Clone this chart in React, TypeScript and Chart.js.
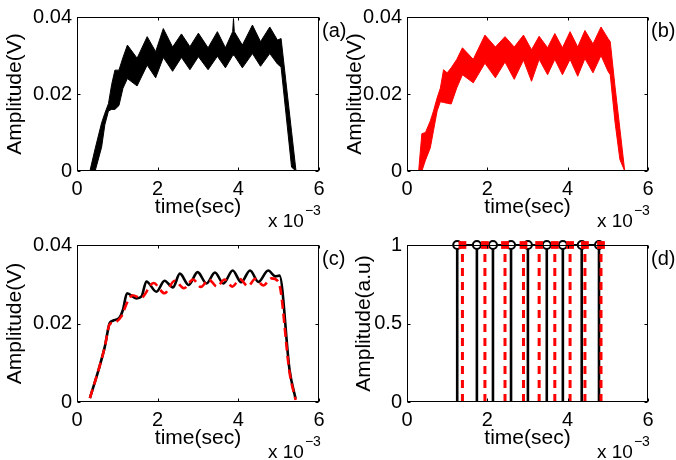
import React, { useEffect, useRef } from "react";
import { Chart, registerables } from "chart.js";

Chart.register(...registerables);

const FONT = "'Liberation Sans', Arial, Helvetica, sans-serif";

// ---------- x / y tick settings ----------
const xTickStep = 2;
const xMax = 6;
const voltMax = 0.04;
const voltStep = 0.02;
const auMax = 1;
const auStep = 0.5;

// ---------- (a) measured signal envelope (time in ms, amplitude in V) ----------
const timeA = [0.32, 0.45, 0.61, 0.69, 0.78, 0.86, 0.94, 1.04, 1.14, 1.25, 1.49, 1.74, 1.95, 2.14, 2.37, 2.59, 2.8, 3.01, 3.25, 3.48, 3.68, 3.86, 3.88, 3.9, 4.1, 4.35, 4.55, 4.78, 4.97, 5.06, 5.18, 5.32, 5.43];
const upperA = [0, 0.0058, 0.0125, 0.015, 0.0175, 0.0225, 0.0262, 0.0262, 0.0295, 0.0327, 0.0293, 0.0349, 0.031, 0.037, 0.0322, 0.0356, 0.0323, 0.0358, 0.032, 0.0362, 0.032, 0.0362, 0.0396, 0.0362, 0.0327, 0.0379, 0.0336, 0.0374, 0.034, 0.0344, 0.0232, 0.0102, 0];
const lowerA = [0, 0, 0.0062, 0.012, 0.0156, 0.016, 0.016, 0.017, 0.0215, 0.024, 0.0221, 0.0275, 0.0242, 0.0295, 0.0259, 0.0295, 0.0263, 0.0297, 0.0263, 0.0298, 0.0268, 0.03, 0.03, 0.03, 0.0268, 0.0305, 0.0272, 0.0305, 0.0278, 0.027, 0.015, 0.001, 0];

// ---------- (b) simulated signal envelope ----------
const timeB = [0.29, 0.37, 0.46, 0.58, 0.66, 0.75, 0.83, 0.91, 1.0, 1.1, 1.24, 1.38, 1.65, 1.94, 2.2, 2.44, 2.67, 2.9, 3.1, 3.29, 3.5, 3.68, 3.87, 4.06, 4.25, 4.43, 4.63, 4.83, 5.0, 5.06, 5.18, 5.3, 5.42];
const upperB = [0, 0.0097, 0.01, 0.013, 0.0156, 0.019, 0.0215, 0.0263, 0.0255, 0.0268, 0.029, 0.032, 0.029, 0.0353, 0.0322, 0.0349, 0.0322, 0.0353, 0.0315, 0.035, 0.032, 0.0357, 0.032, 0.0362, 0.0322, 0.0365, 0.033, 0.0374, 0.0345, 0.0336, 0.0218, 0.011, 0];
const lowerB = [0, 0, 0.0028, 0.006, 0.0105, 0.0156, 0.018, 0.0178, 0.0176, 0.0174, 0.0216, 0.025, 0.0229, 0.028, 0.0242, 0.0283, 0.0238, 0.0288, 0.0233, 0.029, 0.025, 0.029, 0.025, 0.029, 0.0246, 0.0292, 0.0255, 0.03, 0.026, 0.025, 0.0126, 0.003, 0];

// ---------- (c) filtered signals ----------
const timeCBlack = [0.32, 0.56, 0.69, 0.81, 0.89, 1.06, 1.14, 1.24, 1.47, 1.6, 1.72, 1.97, 2.17, 2.38, 2.55, 2.77, 2.99, 3.21, 3.42, 3.63, 3.86, 4.07, 4.29, 4.5, 4.74, 4.92, 5.02, 5.27, 5.42];
const ampCBlack = [0.001, 0.0091, 0.0141, 0.0201, 0.0207, 0.0216, 0.0235, 0.0277, 0.0264, 0.0269, 0.0307, 0.0281, 0.0309, 0.0292, 0.0327, 0.0298, 0.0331, 0.0302, 0.033, 0.0302, 0.0335, 0.0305, 0.0335, 0.0306, 0.0335, 0.032, 0.0322, 0.0082, 0.0008];
const timeCRed = [0.32, 0.56, 0.69, 0.81, 0.92, 1.1, 1.25, 1.38, 1.58, 1.9, 2.17, 2.42, 2.65, 2.88, 3.07, 3.27, 3.47, 3.66, 3.85, 4.04, 4.24, 4.42, 4.62, 4.82, 5.0, 5.27, 5.42];
const ampCRed = [0.001, 0.0091, 0.0141, 0.0198, 0.0202, 0.0218, 0.0255, 0.0272, 0.0265, 0.0303, 0.0277, 0.0309, 0.029, 0.0312, 0.0293, 0.0312, 0.0294, 0.0312, 0.0294, 0.0313, 0.0295, 0.0314, 0.0297, 0.0315, 0.0305, 0.0075, 0.0005];

// ---------- (d) peak instants ----------
const peaksBlack = [1.25, 1.74, 2.14, 2.59, 3.01, 3.48, 3.88, 4.35, 4.78];
const peaksRed = [1.38, 1.94, 2.44, 2.9, 3.29, 3.68, 4.06, 4.43, 4.83];

// ---------- labels ----------
const xTitle = "time(sec)";
const voltTitle = "Amplitude(V)";
const auTitle = "Amplitude(a.u)";
const panelLabels = ["(a)", "(b)", "(c)", "(d)"];

const zip = (xs: number[], ys: number[]) => xs.map((x, i) => ({ x, y: ys[i] }));

function boxPlugin(label: string) {
  return {
    id: "matlabBox" + label,
    afterDraw(chart: any) {
      const { ctx, chartArea: a, scales } = chart;
      const L = Math.round(a.left) + 0.5;
      const T = Math.round(a.top) + 0.5;
      const R = Math.round(a.right) - 0.5;
      const B = Math.round(a.bottom) - 0.5;
      ctx.save();
      ctx.strokeStyle = "#000";
      ctx.lineWidth = 1;
      ctx.strokeRect(L, T, R - L, B - T);
      const tl = 3;
      ctx.beginPath();
      scales.x.ticks.forEach((t: any) => {
        const px = Math.round(scales.x.getPixelForValue(t.value)) + 0.5;
        ctx.moveTo(px, B);
        ctx.lineTo(px, B - tl);
        ctx.moveTo(px, T);
        ctx.lineTo(px, T + tl);
      });
      scales.y.ticks.forEach((t: any) => {
        const py = Math.round(scales.y.getPixelForValue(t.value)) + 0.5;
        ctx.moveTo(L, py);
        ctx.lineTo(L + tl, py);
        ctx.moveTo(R, py);
        ctx.lineTo(R - tl, py);
      });
      ctx.stroke();
      ctx.fillStyle = "#000";
      ctx.font = `20px ${FONT}`;
      ctx.textAlign = "left";
      ctx.textBaseline = "middle";
      ctx.fillText(label, a.right + 3, a.top + 14.5);
      ctx.textBaseline = "alphabetic";
      ctx.font = `19px ${FONT}`;
      const x0 = a.right - 51;
      ctx.fillText("x 10", x0, a.bottom + 56);
      const w = ctx.measureText("x 10").width;
      ctx.font = `14px ${FONT}`;
      ctx.fillText("\u22123", x0 + w + 1, a.bottom + 44);
      ctx.restore();
    },
  };
}

type PanelProps = {
  datasets: any[];
  label: string;
  yTitle: string;
  yMax: number;
  yStep: number;
  pad: { left: number; right: number; top: number; bottom: number };
  yTitlePad: number;
};

function Panel({ datasets, label, yTitle, yMax, yStep, pad, yTitlePad }: PanelProps) {
  const ref = useRef<HTMLCanvasElement | null>(null);
  useEffect(() => {
    if (!ref.current) return;
    const chart = new Chart(ref.current, {
      type: "line",
      data: { datasets },
      options: {
        responsive: false,
        animation: false,
        devicePixelRatio: 1,
        layout: { padding: pad },
        plugins: { legend: { display: false }, tooltip: { enabled: false } },
        elements: { point: { radius: 0 }, line: { tension: 0 } },
        scales: {
          x: {
            type: "linear",
            min: 0,
            max: xMax,
            ticks: { stepSize: xTickStep, color: "#000", font: { family: FONT, size: 20 }, padding: 6, maxRotation: 0 },
            grid: { display: false, drawTicks: false },
            border: { display: false },
            title: { display: true, text: xTitle, color: "#000", font: { family: FONT, size: 21 }, padding: 0 },
            afterFit: (s: any) => {
              s.height = 49;
            },
          },
          y: {
            type: "linear",
            min: 0,
            max: yMax,
            ticks: {
              stepSize: yStep,
              color: "#000",
              font: { family: FONT, size: 20 },
              padding: 5,
              callback: (v: any) => String(Math.round(Number(v) * 1e6) / 1e6),
            },
            grid: { display: false, drawTicks: false },
            border: { display: false },
            title: { display: true, text: yTitle, color: "#000", font: { family: FONT, size: 21 }, padding: { top: yTitlePad, bottom: 0 } },
            afterFit: (s: any) => {
              s.width = 77;
            },
          },
        },
      } as any,
      plugins: [boxPlugin(label)],
    });
    return () => chart.destroy();
  }, []);
  return (
    <canvas
      ref={ref}
      width={676}
      height={460}
      style={{ position: "absolute", left: 0, top: 0, width: 676, height: 460 }}
    />
  );
}

function band(xs: number[], up: number[], lo: number[], color: string) {
  return [
    { data: zip(xs, up), borderColor: color, borderWidth: 1, fill: false, pointRadius: 0 },
    { data: zip(xs, lo), borderColor: color, borderWidth: 1, backgroundColor: color, fill: "-1", pointRadius: 0 },
  ];
}

function stems(xs: number[]) {
  const out: any[] = [];
  xs.forEach((x) => {
    out.push({ x, y: 0 }, { x, y: 1 }, { x, y: null });
  });
  return out;
}

export default function App() {
  const dsA = band(timeA, upperA, lowerA, "#000000");
  const dsB = band(timeB, upperB, lowerB, "#ff0000");
  const dsC = [
    { data: zip(timeCRed, ampCRed), borderColor: "#ff0000", borderWidth: 2.6, borderDash: [9, 5], pointRadius: 0, cubicInterpolationMode: "monotone" },
    { data: zip(timeCBlack, ampCBlack), borderColor: "#000000", borderWidth: 2.6, pointRadius: 0, cubicInterpolationMode: "monotone" },
  ];
  const dsD = [
    { data: peaksRed.map((x) => ({ x, y: 1 })), showLine: false, pointStyle: "rect", pointRadius: 5.5, pointBackgroundColor: "#ff0000", pointBorderColor: "#ff0000", pointBorderWidth: 0, clip: false },
    { data: peaksBlack.map((x) => ({ x, y: 1 })), showLine: false, pointStyle: "circle", pointRadius: 4, pointBackgroundColor: "#ffffff", pointBorderColor: "#000000", pointBorderWidth: 2, clip: false },
    { data: stems(peaksRed), borderColor: "#ff0000", borderWidth: 3, borderDash: [8, 6], pointRadius: 0, spanGaps: false },
    { data: stems(peaksBlack), borderColor: "#000000", borderWidth: 2.6, pointRadius: 0, spanGaps: false },
    { data: [{ x: peaksBlack[0], y: 1 }, { x: peaksBlack[peaksBlack.length - 1], y: 1 }], borderColor: "#000000", borderWidth: 2, pointRadius: 0, clip: false },
  ];
  return (
    <div style={{ position: "absolute", left: 0, top: 0, width: 676, height: 460, background: "#fff" }}>
      <Panel datasets={dsA} label={panelLabels[0]} yTitle={voltTitle} yMax={voltMax} yStep={voltStep} pad={{ left: 0, right: 357, top: 15, bottom: 240 }} yTitlePad={3} />
      <Panel datasets={dsB} label={panelLabels[1]} yTitle={voltTitle} yMax={voltMax} yStep={voltStep} pad={{ left: 330, right: 28, top: 15, bottom: 240 }} yTitlePad={13} />
      <Panel datasets={dsC} label={panelLabels[2]} yTitle={voltTitle} yMax={voltMax} yStep={voltStep} pad={{ left: 0, right: 357, top: 245, bottom: 9 }} yTitlePad={3} />
      <Panel datasets={dsD} label={panelLabels[3]} yTitle={auTitle} yMax={auMax} yStep={auStep} pad={{ left: 330, right: 28, top: 245, bottom: 9 }} yTitlePad={22} />
    </div>
  );
}
